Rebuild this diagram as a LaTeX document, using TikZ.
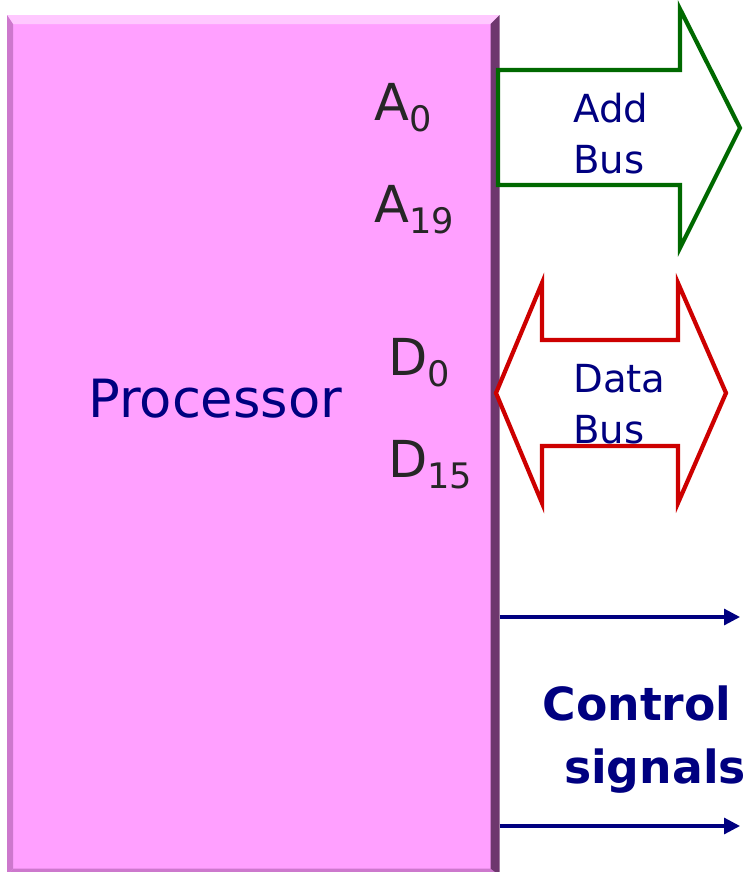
\documentclass[tikz,border=0pt]{standalone}
\usepackage{fontspec}
\setmainfont{DejaVu Sans}
\usepackage{xcolor}
\usetikzlibrary{arrows.meta, calc, positioning}

\definecolor{procpink}{RGB}{255,160,255}
\definecolor{bevellight}{RGB}{255,200,255}
\definecolor{beveldark}{RGB}{110,55,110}
\definecolor{bevelmid}{RGB}{205,120,205}
\definecolor{addgreen}{RGB}{0,105,0}
\definecolor{datared}{RGB}{205,0,0}
\definecolor{ctrlblue}{RGB}{0,0,128}

% pin name with a large, lowered index
\newcommand{\pinname}[2]{#1\raisebox{-6.5pt}{\fontsize{20}{20}\selectfont #2}}

\begin{document}
\begin{tikzpicture}[x=0.02cm, y=-0.02cm,
    pin/.style={text=black!85, font=\fontsize{29}{30}\selectfont, anchor=base west, inner sep=0pt},
    buslabel/.style={text=ctrlblue, font=\fontsize{22}{29}\selectfont, align=left, anchor=base west, inner sep=0pt},
    ctrllabel/.style={text=ctrlblue, font=\bfseries\fontsize{26}{30}\selectfont, anchor=base, inner sep=0pt},
    bus/.style={line width=2.4pt, line join=miter, fill=white}]
    \useasboundingbox (0,0) rectangle (747,872);

    % Processor block with bevelled edges
    \node[fill=procpink, minimum width=492*0.02cm, minimum height=860*0.02cm, inner sep=0pt, anchor=north west] (proc) at (7,15) {};
    \fill[bevellight] (proc.north west) -- (proc.north east) -- ($(proc.north east)+(-9,9)$) -- ($(proc.north west)+(6,9)$) -- cycle;
    \fill[bevelmid] (proc.north west) -- ($(proc.north west)+(6,9)$) -- ($(proc.south west)+(6,-7)$) -- (proc.south west) -- cycle;
    \fill[bevelmid] (proc.south west) -- ($(proc.south west)+(6,-7)$) -- ($(proc.south east)+(-9,-7)$) -- (proc.south east) -- cycle;
    \fill[beveldark] (proc.north east) -- ($(proc.north east)+(-9,9)$) -- ($(proc.south east)+(-9,-7)$) -- (proc.south east) -- cycle;

    \node[text=ctrlblue, font=\fontsize{30}{32}\selectfont, anchor=base west, inner sep=0pt] (name) at (88,417) {Processor};

    % Pin names
    \node[pin] (a0) at (374,120) {\pinname{A}{0}};
    \node[pin] (a19) at (374,222) {\pinname{A}{19}};
    \node[pin] (d0) at (388,375) {\pinname{D}{0}};
    \node[pin] (d15) at (388,477) {\pinname{D}{15}};

    % Address bus (one way)
    \draw[bus, draw=addgreen] (498,70) -- (680,70) -- (680,9) -- (740,128) -- (680,248) -- (680,185) -- (498,185) -- cycle;
    \node[buslabel] (addbus) at (573,173) {Add\\Bus};

    % Data bus (both ways)
    \draw[bus, draw=datared] (496,393) -- (542,283) -- (542,340) -- (678,340) -- (678,283) -- (726,393) -- (678,503) -- (678,446) -- (542,446) -- (542,503) -- cycle;
    \node[buslabel] (databus) at (573,443) {Data\\Bus};

    % Control lines
    \coordinate (c1s) at (proc.east |- 0,617);
    \coordinate (c1e) at (740,617);
    \coordinate (c2s) at (proc.east |- 0,826);
    \coordinate (c2e) at (740,826);
    \draw[ctrlblue, line width=1.8pt, -{Triangle[length=9pt,width=9pt]}] (c1s) -- (c1e);
    \draw[ctrlblue, line width=1.8pt, -{Triangle[length=9pt,width=9pt]}] (c2s) -- (c2e);
    \node[ctrllabel] (ctrl) at (637,720) {Control};
    \node[ctrllabel] (sig) at (655,783) {signals};
\end{tikzpicture}
\end{document}
